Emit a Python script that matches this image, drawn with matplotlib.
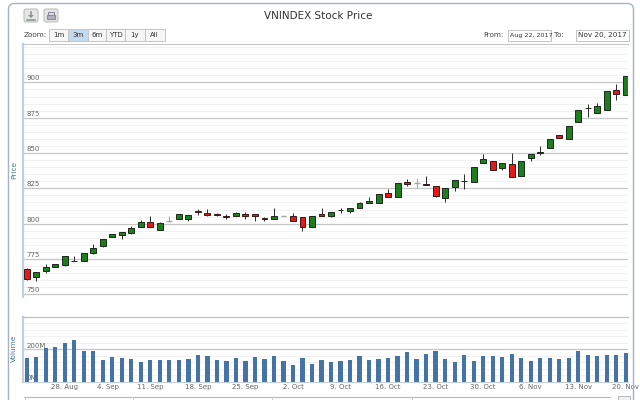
import numpy as np
import pandas as pd
import matplotlib
matplotlib.use("Agg")
import matplotlib.pyplot as plt
from matplotlib.patches import FancyBboxPatch, Rectangle, Polygon

plt.rcParams['font.family'] = ['DejaVu Sans']

# daily OHLC of VNINDEX, Aug 22 - Nov 20 2017
opens = [767.9, 762.5, 766.5, 769.1, 770.8, 773.8, 773.8, 779.0, 784.0, 790.4,
         791.8, 793.7, 797.9, 801.4, 795.5, 802.0, 803.1, 803.1, 809.0, 807.6,
         806.9, 805.7, 805.2, 806.9, 806.9, 804.0, 803.1, 805.2, 805.4, 804.5,
         797.4, 806.9, 805.4, 809.6, 808.8, 811.3, 814.6, 814.6, 821.9, 819.1,
         829.7, 829.0, 828.3, 826.7, 818.0, 826.2, 829.9, 829.3, 843.2, 844.4,
         839.2, 842.2, 833.5, 846.3, 850.2, 853.4, 862.6, 860.2, 872.2, 881.6,
         878.1, 880.7, 894.6, 890.9]
highs = [768.9, 765.8, 771.3, 771.3, 777.4, 777.1, 779.0, 785.6, 789.5, 792.5,
         793.9, 798.2, 802.6, 805.2, 801.4, 805.5, 806.9, 805.9, 810.2, 810.4,
         807.3, 806.9, 808.0, 808.5, 806.9, 804.6, 810.9, 805.2, 807.8, 804.5,
         805.4, 810.9, 808.3, 811.3, 810.9, 815.4, 818.9, 821.0, 824.3, 828.6,
         831.6, 832.1, 833.8, 826.7, 825.0, 830.7, 835.0, 840.3, 849.3, 844.4,
         843.2, 850.3, 844.4, 849.5, 855.0, 859.9, 862.6, 869.4, 880.5, 884.7,
         885.6, 893.9, 899.1, 904.5]
lows = [760.2, 759.4, 764.9, 769.1, 770.1, 773.6, 773.8, 778.8, 783.8, 790.4,
        789.0, 793.0, 797.4, 797.4, 795.5, 801.2, 803.1, 802.1, 806.2, 805.4,
        805.2, 803.1, 805.2, 803.1, 802.1, 802.1, 803.1, 805.2, 802.1, 795.1,
        797.4, 805.2, 804.5, 807.8, 807.7, 811.3, 814.4, 814.6, 819.1, 819.1,
        826.9, 825.0, 827.2, 818.9, 815.1, 823.4, 824.3, 829.3, 843.2, 837.7,
        838.2, 833.0, 833.5, 844.6, 848.6, 853.4, 860.9, 859.6, 872.2, 875.7,
        878.1, 880.7, 887.5, 890.9]
closes = [760.9, 765.6, 769.6, 771.3, 776.9, 773.9, 779.0, 783.0, 789.0, 792.5,
          793.9, 797.0, 801.4, 797.4, 800.3, 802.0, 806.9, 805.9, 808.1, 806.2,
          805.9, 804.7, 807.6, 805.4, 805.4, 803.6, 805.4, 805.2, 802.1, 797.9,
          805.4, 805.2, 808.1, 809.8, 810.9, 814.4, 816.1, 821.0, 819.1, 828.6,
          827.9, 829.0, 827.2, 819.6, 825.0, 830.7, 830.1, 840.3, 845.6, 837.7,
          843.2, 833.0, 844.4, 849.5, 850.4, 859.9, 860.9, 868.9, 880.5, 881.8,
          883.3, 893.9, 891.6, 904.5]
# volume in millions
volumes = [148, 155, 210, 216, 241, 258, 192, 190, 136, 155,
           148, 140, 124, 134, 132, 134, 134, 142, 167, 161,
           136, 130, 148, 128, 155, 142, 161, 128, 101, 148,
           111, 136, 124, 130, 136, 161, 136, 142, 148, 161,
           184, 142, 173, 192, 142, 124, 167, 128, 161, 161,
           155, 173, 148, 130, 148, 148, 142, 148, 188, 167,
           161, 167, 167, 179]

dates = pd.bdate_range("2017-08-22", "2017-11-20").drop(pd.Timestamp("2017-09-04"))
tick_dates = pd.date_range("2017-08-28", "2017-11-20", freq="7D")
tick_labels = ["28. Aug", "4. Sep", "11. Sep", "18. Sep", "25. Sep", "2. Oct", "9. Oct",
               "16. Oct", "23. Oct", "30. Oct", "6. Nov", "13. Nov", "20. Nov"]
price_ticks = [750, 775, 800, 825, 850, 875, 900]
volume_ticks = [0, 200]
zoom_buttons = ["1m", "3m", "6m", "YTD", "1y", "All"]

W, H = 640, 400
def fx(x):
    return x / W
def fy(y):
    return 1 - y / H

fig = plt.figure(figsize=(6.4, 4), dpi=100)

# overlay in pixel coords for the frame and the controls
ov = fig.add_axes([0, 0, 1, 1])
ov.set_xlim(0, W)
ov.set_ylim(H, 0)
ov.axis('off')
ov.set_zorder(5)

ov.add_patch(FancyBboxPatch((8.5, 3.5), 625, 420, boxstyle="round,pad=0,rounding_size=6",
                            fc='none', ec='#a4b4c4', lw=1))
ov.text(318, 16, "VNINDEX Stock Price", ha='center', va='center', fontsize=7.5, color='#333333')

# export buttons
for bx in [24, 44]:
    ov.add_patch(FancyBboxPatch((bx, 9), 14, 13, boxstyle="round,pad=0,rounding_size=2",
                                fc='#e6e6e6', ec='#b8b8b8', lw=0.7))
ov.plot([31, 31], [11.5, 16], color='#8a9a8a', lw=1.2)
ov.add_patch(Polygon([[28, 15], [34, 15], [31, 18]], closed=True, fc='#8a9a8a', ec='none'))
ov.plot([27, 35], [19.5, 19.5], color='#8a9a8a', lw=1.2)
ov.add_patch(Rectangle((48, 11.5), 6, 3, fc='none', ec='#8a8a9a', lw=0.8))
ov.add_patch(Rectangle((47, 14.5), 8, 4.5, fc='#b0b0c0', ec='#8a8a9a', lw=0.8))

# zoom buttons
ov.text(24, 35, "Zoom:", ha='left', va='center', fontsize=5.2, color='#444444')
bxs = [49, 68, 87.5, 106, 125, 145, 164.5]
for k, lab in enumerate(zoom_buttons):
    fc = '#c4d8ee' if lab == "3m" else '#f6f6f6'
    ov.add_patch(Rectangle((bxs[k], 29), bxs[k + 1] - bxs[k], 12, fc=fc, ec='#c4c4c4', lw=0.7))
    ov.text((bxs[k] + bxs[k + 1]) / 2, 35, lab, ha='center', va='center', fontsize=5, color='#333333')

# date range inputs
ov.text(483, 35, "From:", ha='left', va='center', fontsize=5.2, color='#444444')
box1 = Rectangle((508, 29.5), 43, 11, fc='white', ec='#c4c4c4', lw=0.7)
ov.add_patch(box1)
t1 = ov.text(509.5, 35, "Aug 22, 2017", ha='left', va='center', fontsize=4.6, color='#333333')
t1.set_clip_path(box1)
ov.text(554, 35, "To:", ha='left', va='center', fontsize=5.2, color='#444444')
box2 = Rectangle((576, 29.5), 53, 11, fc='white', ec='#c4c4c4', lw=0.7)
ov.add_patch(box2)
t2 = ov.text(578, 35, "Nov 20, 2017", ha='left', va='center', fontsize=5.2, color='#333333')
t2.set_clip_path(box2)

# axis titles
ov.text(14, 170, "Price", rotation=90, ha='center', va='center', fontsize=5.3, color='#4d759e')
ov.text(14, 348, "Volume", rotation=90, ha='center', va='center', fontsize=5.3, color='#4d759e')

# navigator strip at the bottom
ov.plot([24, 610], [397, 397], color='#b8b8b8', lw=0.8)
for nx in [24.6, 133, 272, 412]:
    ov.plot([nx, nx], [397, 400], color='#cccccc', lw=0.8)
ov.add_patch(Rectangle((618, 396), 12, 6, fc='#f0f0f0', ec='#b8b8b8', lw=0.7))

x = np.arange(len(dates))
o = np.array(opens)
c = np.array(closes)
hi = np.array(highs)
lo = np.array(lows)

tick_pos = []
for d in tick_dates:
    p = dates.searchsorted(d)
    tick_pos.append(p if dates[p] == d else p - 0.5)

x_left = (23.3 - 26.7) / 9.51
x_right = (628 - 26.7) / 9.51

# price panel
ax = fig.add_axes([fx(23.3), fy(297), fx(628) - fx(23.3), fy(44) - fy(297)])
ax.set_xlim(x_left, x_right)
ax.set_ylim(748.1, 927.2)
for v in np.arange(750, 927, 5):
    if v in price_ticks:
        ax.axhline(v, color='#c6c6c6', lw=0.9, zorder=0)
    else:
        ax.axhline(v, color='#efefef', lw=0.6, zorder=0)
for v in price_ticks:
    ax.text(0.005, v + 2.9, str(v), transform=ax.get_yaxis_transform(), fontsize=5,
            color='#666666', ha='left', va='center')

flat = o == c
up = (c > o) & ~flat
dn = (c < o) & ~flat
ax.vlines(x[~flat], lo[~flat], hi[~flat], color='#2a2a2a', lw=0.7, zorder=2)
ax.vlines(x[flat], lo[flat], hi[flat], color='#a8a8a8', lw=0.8, zorder=2)
ax.bar(x[up], (c - o)[up], bottom=o[up], width=0.62, color='#1f7d1f', edgecolor='#1a2a1a', lw=0.7, zorder=3)
ax.bar(x[dn], (o - c)[dn], bottom=c[dn], width=0.62, color='#e3191c', edgecolor='#3a1a1a', lw=0.7, zorder=3)
ax.hlines(o[flat], x[flat] - 0.31, x[flat] + 0.31, color='#a8a8a8', lw=1.0, zorder=3)

ax.set_xticks([])
ax.set_yticks([])
for s in ['right', 'bottom']:
    ax.spines[s].set_visible(False)
ax.spines['top'].set_color('#c8c8c8')
ax.spines['top'].set_linewidth(0.8)
ax.spines['left'].set_color('#c0d0e0')
ax.spines['left'].set_linewidth(1.6)

# volume panel
ax2 = fig.add_axes([fx(23.3), fy(381.7), fx(628) - fx(23.3), fy(317) - fy(381.7)])
ax2.set_xlim(x_left, x_right)
ax2.set_ylim(0, 400)
for v in np.arange(40, 400, 40):
    if v == 200:
        ax2.axhline(v, color='#c6c6c6', lw=0.9, zorder=0)
    else:
        ax2.axhline(v, color='#efefef', lw=0.6, zorder=0)
ax2.bar(x, volumes, width=0.45, color='#4572a7', zorder=2)
for v in volume_ticks:
    ax2.text(0.005, v + 22, "%dM" % v, transform=ax2.get_yaxis_transform(), fontsize=5,
             color='#666666', ha='left', va='center', zorder=4)
ax2.set_yticks([])
ax2.set_xticks(tick_pos)
ax2.set_xticklabels(tick_labels, fontsize=5, color='#666666')
ax2.tick_params(axis='x', length=0, pad=1.5)
ax2.spines['right'].set_visible(False)
ax2.spines['top'].set_color('#c0c0c0')
ax2.spines['top'].set_linewidth(0.9)
ax2.spines['bottom'].set_color('#c0d0e0')
ax2.spines['bottom'].set_linewidth(0.8)
ax2.spines['left'].set_color('#c0d0e0')
ax2.spines['left'].set_linewidth(1.6)

fig.savefig("out.png", dpi=100)
